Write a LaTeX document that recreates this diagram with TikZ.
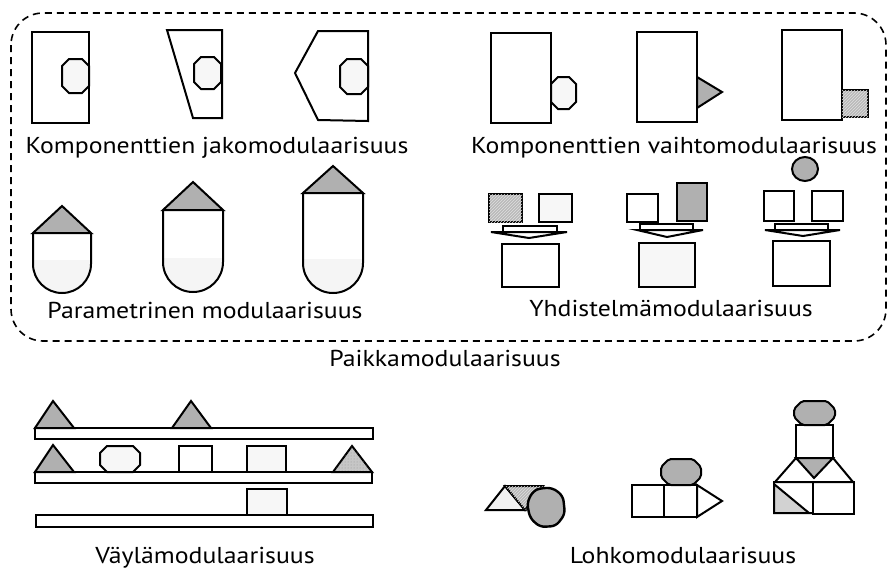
\documentclass[tikz,border=0pt]{standalone}
\usepackage{fontspec}
\setmainfont[FakeStretch=1.12]{PT Sans}
\usetikzlibrary{patterns}
\newcommand\myoct[6]{\draw[#1] ({#2+#6},#3) -- ({#4-#6},#3) -- (#4,{#3+#6}) -- (#4,{#5-#6}) -- ({#4-#6},#5) -- ({#2+#6},#5) -- (#2,{#5-#6}) -- (#2,{#3+#6}) -- cycle;}
\newcommand\myushape[5]{%
  \pgfmathsetmacro\ur{(#2-#1)/2}%
  \pgfmathsetmacro\um{(#1+#2)/2}%
  \begin{scope}
    \clip (#1,#3) -- (#1,{#4-\ur}) arc[start angle=180,end angle=360,radius=\ur pt] -- (#2,#3) -- cycle;
    \fill[gray!8] (#1,{#4-\ur-4}) rectangle (#2,#4);
  \end{scope}
  \draw[shp] (#1,#3) -- (#1,{#4-\ur}) arc[start angle=180,end angle=360,radius=\ur pt] -- (#2,#3);
  \draw[dk] (#1,#3) -- (\um,#5) -- (#2,#3) -- cycle;
}
\tikzset{
  shp/.style={draw=black, line width=2pt, line join=miter},
  dk/.style={shp, fill=gray!62},
  lt/.style={shp, fill=gray!6},
  wh/.style={shp, fill=white},
  hatch/.style={shp, fill=gray!55, postaction={pattern=north east lines, pattern color=white!75!gray}},
  dotfill/.style={shp, fill=gray!45, postaction={pattern=dots, pattern color=gray!85}},
  captxt/.style={font=\fontsize{23}{25}\selectfont, anchor=base, inner sep=0pt},
}
\begin{document}
\begin{tikzpicture}[x=1pt,y=-1pt]
\useasboundingbox (0,0) rectangle (891,570);
\fill[white] (0,0) rectangle (891,570);

% dashed frame
\draw[line width=1.6pt, dash pattern=on 7pt off 5pt, rounded corners=32pt] (11,13) rectangle (886,341);

% --- Komponenttien jakomodulaarisuus
\draw[shp] (32,32) rectangle (89,123);
\myoct{lt}{62}{59}{89}{93}{7}
\draw[shp] (167,30) -- (222,30) -- (222,118) -- (193,118) -- cycle;
\myoct{lt}{194}{57}{221}{89}{7}
\draw[shp] (318,31) -- (368,31) -- (368,121) -- (318,120) -- (295,73) -- cycle;
\myoct{lt}{340}{59}{368}{94}{7}
\node[captxt] (c1) at (217,153) {Komponenttien jakomodulaarisuus};

% --- Komponenttien vaihtomodulaarisuus
\draw[shp] (491,33) rectangle (551,123);
\myoct{lt}{551}{77}{576}{109}{7}
\draw[shp] (637,32) rectangle (697,122);
\draw[dk] (697,77) -- (722,92) -- (697,108) -- cycle;
\draw[shp] (782,30) rectangle (842,120);
\draw[hatch] (842,90) rectangle (868,117);
\node[captxt] (c2) at (674,153) {Komponenttien vaihtomodulaarisuus};

% --- Parametrinen modulaarisuus
\myushape{33}{91}{233}{293}{206}
\myushape{163}{223}{210}{292}{182}
\myushape{303}{363}{193}{293}{166}
\node[captxt] (c3) at (205,318) {Parametrinen modulaarisuus};

% --- Yhdistelmamodulaarisuus
\draw[hatch] (489,194) rectangle (522,222);
\draw[lt] (539,194) rectangle (572,222);
\draw[wh] (503,226) rectangle (557,232);
\draw[wh] (491,232) -- (567,232) -- (529,238) -- cycle;
\draw[shp] (502,244) rectangle (559,287);

\draw[shp] (627,194) rectangle (658,222);
\draw[dk] (677,183) rectangle (707,221);
\draw[wh] (640,224) rectangle (693,230);
\draw[wh] (637,230) -- (703,230) -- (667,237) -- cycle;
\draw[lt] (639,243) rectangle (695,287);

\draw[dk] (805,169) ellipse[x radius=13pt, y radius=12pt];
\draw[shp] (764,191) rectangle (794,221);
\draw[shp] (812,191) rectangle (843,221);
\draw[wh] (775,224) rectangle (828,230);
\draw[wh] (765,230) -- (840,230) -- (803,236) -- cycle;
\draw[shp] (773,241) rectangle (830,286);
\node[captxt] (c4) at (671,316) {Yhdistelmämodulaarisuus};

\node[captxt] (c5) at (445,366) {Paikkamodulaarisuus};

% --- Vaylamodulaarisuus
\draw[dk] (35,428) -- (53,401) -- (74,428) -- cycle;
\draw[dk] (172,428) -- (191,401) -- (211,428) -- cycle;
\draw[shp] (35,428) rectangle (373,439);
\draw[dk] (35,472) -- (53,445) -- (74,472) -- cycle;
\myoct{lt}{100}{446}{140}{472}{7}
\draw[shp] (179,446) rectangle (212,472);
\draw[lt] (247,446) rectangle (286,472);
\draw[dotfill] (333,472) -- (352,446) -- (372,472) -- cycle;
\draw[shp] (35,472) rectangle (372,483);
\draw[lt] (247,489) rectangle (287,515);
\draw[shp] (36,515) rectangle (373,527);
\node[captxt] (c6) at (205,563) {Väylämodulaarisuus};

% --- Lohkomodulaarisuus
\draw[shp, fill=gray!10] (486,510) -- (505,486) -- (525,510) -- cycle;
\draw[hatch] (505,486) -- (543,486) -- (525,510) -- cycle;
\draw[dk, line width=2.4pt, rounded corners=5pt] (533,491) -- (541,488) -- (553,488) -- (563,496) -- (565,514) -- (556,526) -- (540,527) -- (530,518) -- (527,503) -- cycle;

\draw[shp] (632,485) rectangle (664,517);
\draw[shp] (664,485) rectangle (697,517);
\draw[wh] (697,485) -- (722,501) -- (697,517) -- cycle;
\myoct{dk, rounded corners=2pt}{661}{459}{701}{485}{8}

\myoct{dk, rounded corners=2pt}{794}{401}{835}{425}{8}
\draw[shp] (796,425) rectangle (833,458);
\draw[shp] (775,482) -- (796,458) -- (833,458) -- (853,482) -- cycle;
\draw[dk] (796,458) -- (833,458) -- (814,478) -- cycle;
\draw[shp] (774,482) rectangle (813,513);
\draw[shp, fill=gray!35] (774,484) -- (809,513) -- (774,513) -- cycle;
\draw[shp] (813,482) rectangle (854,514);
\node[captxt] (c7) at (683,563) {Lohkomodulaarisuus};
\end{tikzpicture}
\end{document}
